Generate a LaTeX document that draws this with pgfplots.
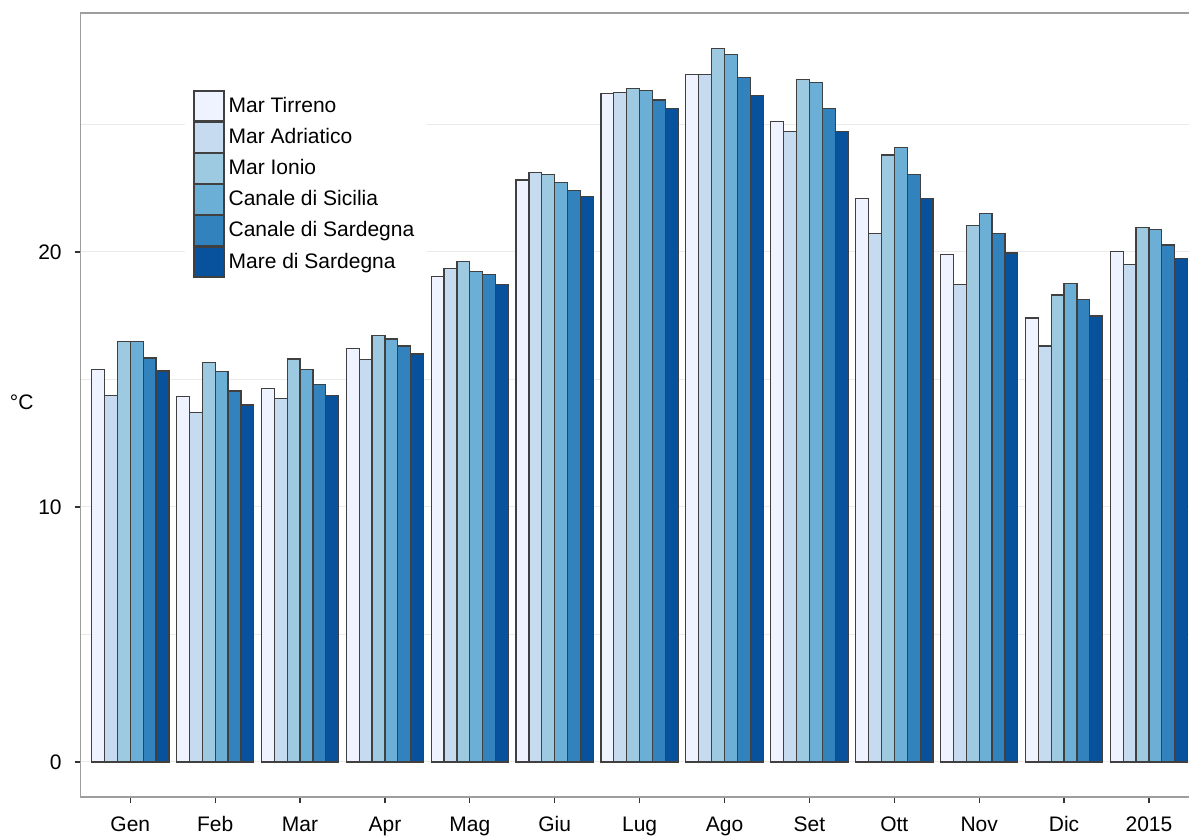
\documentclass[border=0pt]{standalone}
\usepackage{fontspec}
\setmainfont{Liberation Sans}
\usepackage{pgfplots}
\pgfplotsset{compat=1.18}
\definecolor{b1}{HTML}{EFF3FF}
\definecolor{b2}{HTML}{C6DBEF}
\definecolor{b3}{HTML}{9ECAE1}
\definecolor{b4}{HTML}{6BAED6}
\definecolor{b5}{HTML}{3182BD}
\definecolor{b6}{HTML}{08519C}
\newcommand{\fs}{\fontsize{10.5}{12.6}\selectfont}
\begin{document}
\begin{tikzpicture}
\begin{axis}[
  scale only axis, width=555.65pt, height=392pt,
  xmin=-0.584, xmax=12.507, ymin=-1.373, ymax=29.37,
  ybar=0pt, bar width=0.152,
  xtick={0,...,12},
  xticklabels={Gen,Feb,Mar,Apr,Mag,Giu,Lug,Ago,Set,Ott,Nov,Dic,2015},
  ytick={0,10,20}, minor ytick={5,15,25},
  ymajorgrids, yminorgrids,
  major grid style={draw=black!8, line width=0.5pt},
  minor grid style={draw=black!8, line width=0.5pt},
  axis line style={draw=black!38, line width=0.6pt},
  tick align=outside, major tick length=3pt, minor tick length=0pt,
  tick style={draw=black!80, line width=0.6pt},
  xtick pos=left, ytick pos=left,
  tick label style={font=\fs, /pgf/number format/assume math mode=true},
  yticklabel style={xshift=-3pt},
  xticklabel style={yshift=-3pt, text height=7.7pt, text depth=2.2pt},
  ylabel={°C},
  ylabel style={at={(axis description cs:-0.0531,0.504)}, rotate=-90, anchor=center, font=\fs},
  legend style={at={(axis description cs:0.0939,0.9069)}, anchor=north west,
    draw=none, fill=white, inner xsep=4pt, inner ysep=2pt, font=\fs, row sep=0pt},
  legend cell align=left,
  legend image code/.code={\draw[#1] (0pt,-7.5pt) rectangle (15pt,7.5pt);},
  every axis plot/.append style={draw=black!75, line width=0.6pt},
]
\addplot[fill=b1] coordinates {(0,15.40) (1,14.33) (2,14.64) (3,16.21) (4,19.03) (5,22.82) (6,26.21) (7,26.95) (8,25.12) (9,22.09) (10,19.91) (11,17.41) (12,20.01)};
\addplot[fill=b2] coordinates {(0,14.38) (1,13.70) (2,14.25) (3,15.79) (4,19.35) (5,23.10) (6,26.26) (7,26.97) (8,24.72) (9,20.73) (10,18.72) (11,16.31) (12,19.52)};
\addplot[fill=b3] coordinates {(0,16.50) (1,15.65) (2,15.80) (3,16.71) (4,19.63) (5,23.03) (6,26.42) (7,27.97) (8,26.77) (9,23.80) (10,21.03) (11,18.31) (12,20.97)};
\addplot[fill=b4] coordinates {(0,16.50) (1,15.31) (2,15.39) (3,16.59) (4,19.24) (5,22.71) (6,26.33) (7,27.75) (8,26.65) (9,24.10) (10,21.52) (11,18.75) (12,20.89)};
\addplot[fill=b5] coordinates {(0,15.84) (1,14.55) (2,14.81) (3,16.31) (4,19.11) (5,22.42) (6,25.96) (7,26.85) (8,25.63) (9,23.05) (10,20.71) (11,18.12) (12,20.27)};
\addplot[fill=b6] coordinates {(0,15.33) (1,14.00) (2,14.37) (3,16.00) (4,18.72) (5,22.17) (6,25.61) (7,26.14) (8,24.71) (9,22.11) (10,19.96) (11,17.49) (12,19.73)};
\legend{Mar Tirreno,Mar Adriatico,Mar Ionio,Canale di Sicilia,Canale di Sardegna,Mare di Sardegna}
\coordinate (sw) at (rel axis cs:0,0);
\coordinate (ne) at (rel axis cs:1,1);
\end{axis}
\pgfresetboundingbox
\path[use as bounding box] ([shift={(-40.35pt,-19.5pt)}]sw) rectangle ([shift={(-1.5pt,6.5pt)}]ne);
\end{tikzpicture}
\end{document}
